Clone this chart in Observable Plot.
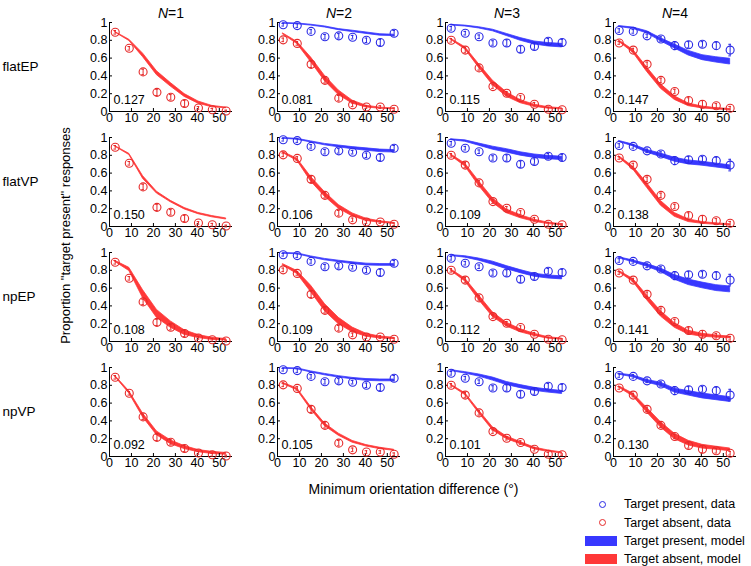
<!DOCTYPE html>
<html>
<head>
<meta charset="utf-8">
<script src="https://cdn.jsdelivr.net/npm/d3@7"></script>
<script src="https://cdn.jsdelivr.net/npm/@observablehq/plot@0.6"></script>
<style>
  body { margin: 0; background: #fff; font-family: "Liberation Sans", Arial, Helvetica, sans-serif; }
  #wrap { position: relative; width: 751px; height: 566px; }
  #legend { position: absolute; left: 585px; top: 495px; font-size: 12.5px; color: #000; }
  .row { display: flex; align-items: center; height: 18.4px; }
  .key { width: 32px; height: 10px; display: flex; justify-content: center; align-items: center; margin-right: 7px; }
  .sw { width: 32px; height: 10px; }
  .ci { width: 7px; height: 7px; border-radius: 50%; border: 1px solid; box-sizing: border-box; margin-left: 3px; }
</style>
</head>
<body>
<div id="wrap"><div id="chart"></div><div id="legend"></div></div>
<script>
// ---------- data ----------
const Ns = [1, 2, 3, 4];
const models = ["flatEP", "flatVP", "npEP", "npVP"];
const xs = [2.6, 9.0, 15.3, 21.6, 27.9, 34.2, 40.5, 46.8, 53.1];
const xTicks = [0, 10, 20, 30, 40, 50];
const yTicks = [0, 0.2, 0.4, 0.6, 0.8, 1];

// observed data (same in every row), index = N-1 ; null = none
const presentData = [
  null,
  [0.975, 0.965, 0.90, 0.84, 0.85, 0.835, 0.80, 0.775, 0.88],
  [0.935, 0.88, 0.84, 0.77, 0.77, 0.70, 0.73, 0.79, 0.775],
  [0.91, 0.90, 0.85, 0.815, 0.74, 0.75, 0.755, 0.74, 0.69]
];
const presentErr = [
  null,
  [0.015, 0.02, 0.02, 0.025, 0.025, 0.02, 0.025, 0.035, 0.03],
  [0.02, 0.02, 0.02, 0.025, 0.035, 0.035, 0.03, 0.03, 0.035],
  [0.02, 0.02, 0.02, 0.025, 0.045, 0.035, 0.03, 0.04, 0.065]
];
const absentData = [
  [0.89, 0.71, 0.445, 0.215, 0.16, 0.09, 0.04, 0.02, 0.005],
  [0.805, 0.765, 0.53, 0.35, 0.15, 0.075, 0.05, 0.05, 0.025],
  [0.80, 0.69, 0.49, 0.28, 0.205, 0.157, 0.082, 0.026, 0.019],
  [0.77, 0.69, 0.53, 0.35, 0.225, 0.124, 0.082, 0.064, 0.037]
];
const absentErr = [
  [0.02, 0.02, 0.03, 0.035, 0.03, 0.035, 0.015, 0.015, 0.01],
  [0.02, 0.02, 0.035, 0.03, 0.03, 0.02, 0.015, 0.015, 0.015],
  [0.02, 0.03, 0.025, 0.02, 0.02, 0.02, 0.02, 0.02, 0.01],
  [0.015, 0.02, 0.025, 0.025, 0.025, 0.03, 0.04, 0.025, 0.02]
];

// model fits: band centre and half-width, index = N-1
const flatEP_present = [null,
  [0.99, 0.985, 0.97, 0.95, 0.92, 0.90, 0.88, 0.86, 0.855],
  [0.97, 0.96, 0.94, 0.91, 0.86, 0.81, 0.77, 0.75, 0.74],
  [0.955, 0.935, 0.89, 0.805, 0.73, 0.655, 0.605, 0.58, 0.56]];
const flatEP_presentW = [null,
  [0.003, 0.004, 0.005, 0.006, 0.006, 0.008, 0.008, 0.008, 0.008],
  [0.004, 0.005, 0.007, 0.009, 0.012, 0.015, 0.017, 0.019, 0.02],
  [0.005, 0.008, 0.012, 0.017, 0.022, 0.026, 0.028, 0.03, 0.032]];
const flatEP_absent = [
  [0.89, 0.80, 0.63, 0.43, 0.30, 0.18, 0.10, 0.055, 0.04],
  [0.87, 0.77, 0.58, 0.37, 0.21, 0.105, 0.055, 0.037, 0.03],
  [0.81, 0.71, 0.51, 0.32, 0.19, 0.11, 0.065, 0.04, 0.03],
  [0.79, 0.675, 0.47, 0.28, 0.15, 0.075, 0.045, 0.03, 0.022]];
const flatEP_absentW = [
  [0.003, 0.007, 0.02, 0.022, 0.02, 0.016, 0.012, 0.008, 0.004],
  [0.006, 0.012, 0.026, 0.03, 0.026, 0.017, 0.01, 0.006, 0.005],
  [0.006, 0.012, 0.02, 0.025, 0.025, 0.017, 0.012, 0.008, 0.006],
  [0.008, 0.016, 0.025, 0.025, 0.02, 0.015, 0.01, 0.008, 0.006]];

const flatVP_present = [null,
  [0.99, 0.98, 0.95, 0.92, 0.90, 0.88, 0.865, 0.85, 0.845],
  [0.975, 0.96, 0.92, 0.88, 0.85, 0.815, 0.79, 0.775, 0.765],
  [0.955, 0.91, 0.845, 0.80, 0.75, 0.72, 0.705, 0.685, 0.665]];
const flatVP_presentW = [null,
  [0.004, 0.005, 0.006, 0.008, 0.01, 0.012, 0.013, 0.014, 0.014],
  [0.005, 0.008, 0.012, 0.017, 0.019, 0.019, 0.019, 0.019, 0.019],
  [0.006, 0.01, 0.015, 0.019, 0.022, 0.022, 0.022, 0.022, 0.022]];
const flatVP_absent = [
  [0.90, 0.81, 0.55, 0.38, 0.28, 0.20, 0.145, 0.11, 0.085],
  [0.83, 0.75, 0.53, 0.36, 0.22, 0.13, 0.075, 0.05, 0.035],
  [0.80, 0.69, 0.48, 0.29, 0.17, 0.11, 0.065, 0.035, 0.02],
  [0.78, 0.655, 0.46, 0.26, 0.13, 0.065, 0.04, 0.027, 0.02]];
const flatVP_absentW = [
  [0.003, 0.007, 0.015, 0.01, 0.008, 0.008, 0.007, 0.007, 0.006],
  [0.006, 0.012, 0.026, 0.026, 0.021, 0.017, 0.012, 0.008, 0.006],
  [0.008, 0.016, 0.026, 0.026, 0.021, 0.017, 0.012, 0.008, 0.006],
  [0.008, 0.016, 0.026, 0.026, 0.021, 0.015, 0.01, 0.008, 0.006]];

const npEP_present = [null,
  [0.99, 0.985, 0.95, 0.92, 0.90, 0.88, 0.865, 0.86, 0.86],
  [0.965, 0.95, 0.92, 0.88, 0.83, 0.785, 0.745, 0.725, 0.715],
  [0.94, 0.90, 0.855, 0.80, 0.72, 0.665, 0.63, 0.60, 0.585]];
const npEP_presentW = [null,
  [0.004, 0.005, 0.006, 0.008, 0.008, 0.01, 0.01, 0.01, 0.01],
  [0.005, 0.008, 0.012, 0.017, 0.017, 0.017, 0.017, 0.017, 0.017],
  [0.006, 0.01, 0.015, 0.019, 0.026, 0.031, 0.032, 0.033, 0.033]];
const npEP_absent = [
  [0.90, 0.81, 0.53, 0.31, 0.19, 0.10, 0.055, 0.03, 0.02],
  [0.86, 0.775, 0.59, 0.38, 0.23, 0.13, 0.07, 0.045, 0.034],
  [0.80, 0.69, 0.49, 0.30, 0.19, 0.12, 0.075, 0.04, 0.027],
  [0.785, 0.685, 0.49, 0.31, 0.18, 0.10, 0.07, 0.056, 0.045]];
const npEP_absentW = [
  [0.006, 0.018, 0.045, 0.045, 0.036, 0.026, 0.017, 0.012, 0.008],
  [0.008, 0.017, 0.036, 0.04, 0.036, 0.026, 0.017, 0.01, 0.008],
  [0.008, 0.016, 0.026, 0.026, 0.021, 0.017, 0.012, 0.008, 0.006],
  [0.008, 0.016, 0.026, 0.03, 0.026, 0.021, 0.017, 0.012, 0.01]];

const npVP_present = [null,
  [0.99, 0.985, 0.95, 0.92, 0.895, 0.875, 0.86, 0.855, 0.855],
  [0.965, 0.94, 0.91, 0.87, 0.82, 0.785, 0.755, 0.735, 0.72],
  [0.925, 0.90, 0.845, 0.81, 0.74, 0.71, 0.68, 0.66, 0.64]];
const npVP_presentW = [null,
  [0.004, 0.005, 0.006, 0.008, 0.008, 0.008, 0.01, 0.01, 0.01],
  [0.005, 0.008, 0.012, 0.017, 0.017, 0.017, 0.017, 0.017, 0.017],
  [0.006, 0.01, 0.015, 0.019, 0.022, 0.025, 0.027, 0.027, 0.027]];
const npVP_absent = [
  [0.90, 0.72, 0.46, 0.26, 0.16, 0.10, 0.06, 0.04, 0.03],
  [0.82, 0.755, 0.54, 0.355, 0.245, 0.165, 0.12, 0.09, 0.07],
  [0.80, 0.70, 0.50, 0.31, 0.21, 0.15, 0.09, 0.06, 0.04],
  [0.78, 0.69, 0.52, 0.355, 0.225, 0.15, 0.11, 0.093, 0.075]];
const npVP_absentW = [
  [0.006, 0.012, 0.021, 0.021, 0.021, 0.017, 0.012, 0.012, 0.01],
  [0.006, 0.01, 0.015, 0.015, 0.012, 0.01, 0.008, 0.008, 0.006],
  [0.006, 0.01, 0.015, 0.017, 0.015, 0.012, 0.01, 0.008, 0.006],
  [0.008, 0.016, 0.026, 0.03, 0.03, 0.026, 0.021, 0.017, 0.015]];

// goodness-of-fit numbers shown in each panel, rows = models, cols = N
const fitValues = [
  [0.127, 0.081, 0.115, 0.147],
  [0.150, 0.106, 0.109, 0.138],
  [0.108, 0.109, 0.112, 0.141],
  [0.092, 0.105, 0.101, 0.130]
];

const legendItems = ["Target present, data", "Target absent, data", "Target present, model", "Target absent, model"];
const xTitle = "Minimum orientation difference (\u00B0)";
const yTitle = "Proportion \"target present\" responses";

// ---------- colours ----------
const dotBlue = "#2a2ae6", dotRed = "#e62a2a";
const bandBlue = "#3838ff", bandRed = "#ff3838";

// ---------- build tables ----------
const modelTables = {
  flatEP: [flatEP_present, flatEP_presentW, flatEP_absent, flatEP_absentW],
  flatVP: [flatVP_present, flatVP_presentW, flatVP_absent, flatVP_absentW],
  npEP: [npEP_present, npEP_presentW, npEP_absent, npEP_absentW],
  npVP: [npVP_present, npVP_presentW, npVP_absent, npVP_absentW]
};
const bands = [];
for (const m of models) {
  const [pc, pw, ac, aw] = modelTables[m];
  Ns.forEach((N, i) => {
    if (pc[i]) xs.forEach((x, j) => bands.push({model: m, N, series: "present", x, lo: pc[i][j] - pw[i][j], hi: pc[i][j] + pw[i][j]}));
    if (ac[i]) xs.forEach((x, j) => bands.push({model: m, N, series: "absent", x, lo: ac[i][j] - aw[i][j], hi: ac[i][j] + aw[i][j]}));
  });
}
const pts = [];
for (const m of models) {
  Ns.forEach((N, i) => {
    if (presentData[i]) xs.forEach((x, j) => pts.push({model: m, N, series: "present", x, y: presentData[i][j], e: presentErr[i][j]}));
    xs.forEach((x, j) => pts.push({model: m, N, series: "absent", x, y: absentData[i][j], e: absentErr[i][j]}));
  });
}
const fits = [];
models.forEach((m, r) => Ns.forEach((N, c) => fits.push({model: m, N, v: fitValues[r][c]})));
const headers = Ns.map(N => ({N, model: models[0]}));
const rowLabels = models.map(m => ({N: Ns[0], model: m}));

const P = d => d.series === "present";
const A = d => d.series === "absent";
const fac = {fx: "N", fy: "model"};

const chart = Plot.plot({
  width: 751, height: 566,
  marginLeft: 108, marginRight: 13, marginTop: 21, marginBottom: 109,
  fx: {domain: Ns, padding: 0.265, axis: null},
  fy: {domain: models, padding: 0.228, axis: null},
  x: {domain: [0, 56]},
  y: {domain: [0, 1]},
  style: {fontFamily: "'Liberation Sans', Arial, Helvetica, sans-serif", fontSize: "12px", color: "#000", background: "#fff", overflow: "visible"},
  marks: [
    // model bands
    Plot.areaY(bands.filter(P), {...fac, x: "x", y1: "lo", y2: "hi", fill: bandBlue, stroke: bandBlue, strokeWidth: 0.8}),
    Plot.areaY(bands.filter(A), {...fac, x: "x", y1: "lo", y2: "hi", fill: bandRed, stroke: bandRed, strokeWidth: 0.8}),
    // axis lines
    Plot.ruleY([0], {stroke: "#000", strokeWidth: 1}),
    Plot.ruleX([0], {stroke: "#000", strokeWidth: 1}),
    Plot.axisX({anchor: "bottom", ticks: xTicks, tickSize: -3, tickPadding: 4.5, facetAnchor: null, label: null, fontSize: 12.5}),
    Plot.axisY({anchor: "left", ticks: yTicks, tickFormat: d => String(d), tickSize: -3, tickPadding: 5, facetAnchor: null, label: null, fontSize: 12.5}),
    // error bars
    Plot.ruleX(pts.filter(P), {...fac, x: "x", y1: d => d.y - d.e, y2: d => d.y + d.e, stroke: dotBlue, strokeWidth: 1}),
    Plot.ruleX(pts.filter(A), {...fac, x: "x", y1: d => d.y - d.e, y2: d => d.y + d.e, stroke: dotRed, strokeWidth: 1}),
    Plot.ruleY(pts.filter(P), {...fac, y: d => d.y + d.e, x1: d => d.x - 0.6, x2: d => d.x + 0.6, stroke: dotBlue}),
    Plot.ruleY(pts.filter(P), {...fac, y: d => d.y - d.e, x1: d => d.x - 0.6, x2: d => d.x + 0.6, stroke: dotBlue}),
    Plot.ruleY(pts.filter(A), {...fac, y: d => d.y + d.e, x1: d => d.x - 0.6, x2: d => d.x + 0.6, stroke: dotRed}),
    Plot.ruleY(pts.filter(A), {...fac, y: d => d.y - d.e, x1: d => d.x - 0.6, x2: d => d.x + 0.6, stroke: dotRed}),
    // data points
    Plot.dot(pts.filter(P), {...fac, x: "x", y: "y", r: 4, stroke: dotBlue, strokeWidth: 1.1, fill: "none"}),
    Plot.dot(pts.filter(A), {...fac, x: "x", y: "y", r: 4, stroke: dotRed, strokeWidth: 1.1, fill: "none"}),
    // fit numbers
    Plot.text(fits, {...fac, text: d => d.v.toFixed(3), frameAnchor: "bottom-left", dx: 4, dy: -8, textAnchor: "start", fontSize: 12.5}),
    // column headers  N=1 ...
    Plot.text(headers, {...fac, text: () => "N", frameAnchor: "top", dx: -3, dy: -14, textAnchor: "end", fontStyle: "italic", fontSize: 14}),
    Plot.text(headers, {...fac, text: d => "=" + d.N, frameAnchor: "top", dx: -3, dy: -14, textAnchor: "start", fontSize: 14}),
    // row labels
    Plot.text(rowLabels, {...fac, text: "model", frameAnchor: "left", dx: -107, textAnchor: "start", fontSize: 13.5}),
    // axis titles
    Plot.text([{N: 2, model: "npVP"}], {...fac, text: () => xTitle, frameAnchor: "bottom-right", dx: 13, dy: 37, textAnchor: "middle", fontSize: 14}),
    Plot.text([{N: 1, model: "flatVP"}], {...fac, text: () => yTitle, frameAnchor: "bottom-left", dx: -40, dy: 9, rotate: -90, textAnchor: "middle", fontSize: 13})
  ]
});
document.getElementById("chart").appendChild(chart);

// legend
const legend = document.getElementById("legend");
const legendKeys = [
  {kind: "circle", color: dotBlue},
  {kind: "circle", color: dotRed},
  {kind: "swatch", color: bandBlue},
  {kind: "swatch", color: bandRed}
];
legendItems.forEach((label, i) => {
  const row = document.createElement("div");
  row.className = "row";
  const key = document.createElement("div");
  key.className = "key";
  const mark = document.createElement("div");
  if (legendKeys[i].kind === "circle") { mark.className = "ci"; mark.style.borderColor = legendKeys[i].color; }
  else { mark.className = "sw"; mark.style.background = legendKeys[i].color; }
  key.appendChild(mark);
  const txt = document.createElement("span");
  txt.textContent = label;
  row.appendChild(key); row.appendChild(txt);
  legend.appendChild(row);
});
</script>
</body>
</html>
